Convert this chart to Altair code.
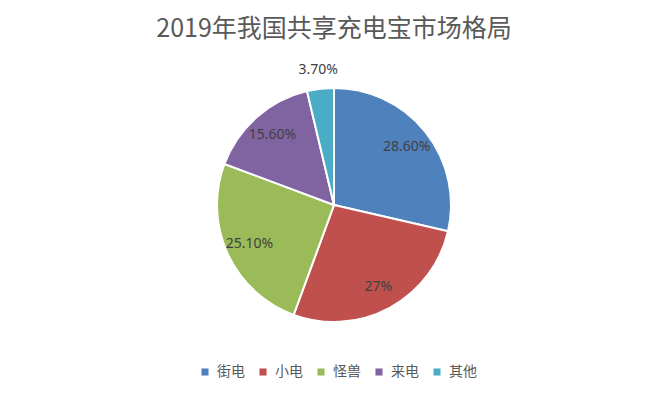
import altair as alt
import pandas as pd

categories = ["街电", "小电", "怪兽", "来电", "其他"]
shares = [28.6, 27.0, 25.1, 15.6, 3.7]
labels = ["28.60%", "27%", "25.10%", "15.60%", "3.70%"]
colors = ["#4F81BD", "#C0504D", "#9BBB59", "#8064A2", "#4BACC6"]

df = pd.DataFrame({"brand": categories, "share": shares, "label": labels,
                   "idx": list(range(len(categories)))})

CX, CY, R = 326, 147, 117
font = "Noto Sans CJK SC"

base = alt.Chart(df).encode(
    theta=alt.Theta("share:Q", stack=True),
    order=alt.Order("idx:Q"),
)

arcs = base.mark_arc(outerRadius=R, stroke="white", strokeWidth=2).encode(
    x=alt.value(CX), y=alt.value(CY),
    color=alt.Color("brand:N", scale=alt.Scale(domain=categories, range=colors),
                    sort=categories,
                    legend=alt.Legend(title=None, orient="none", direction="horizontal",
                                      legendX=190, legendY=307, symbolType="square",
                                      symbolSize=50, symbolStrokeWidth=0,
                                      labelFont=font, labelFontSize=14,
                                      labelColor="#595959", columnPadding=11,
                                      labelOffset=5)),
)

inner = base.transform_calculate(
    t="datum.share < 5 ? '' : datum.label"
).mark_text(font="Noto Sans", fontSize=14, color="#404040", radius=93).encode(
    x=alt.value(CX), y=alt.value(CY),
    text="t:N",
)

outer = base.transform_calculate(
    t="datum.share < 5 ? datum.label : ''"
).mark_text(font="Noto Sans", fontSize=14, color="#404040", radius=136).encode(
    x=alt.value(CX), y=alt.value(CY),
    text="t:N",
)

chart = alt.layer(arcs, inner, outer).properties(
    width=652, height=333,
    autosize=alt.AutoSizeParams(type="none"),
    padding={"left": 0, "top": 50, "right": 0, "bottom": 0},
    view=alt.ViewBackground(strokeWidth=0, stroke="white"),
    title=alt.Title("2019年我国共享充电宝市场格局", font=font, fontSize=25,
                    fontWeight="normal", color="#595959", anchor="middle", offset=16),
).configure_view(strokeWidth=0).configure(background="white")

chart.save("out.html", embed_options={"renderer": "svg", "actions": False})
